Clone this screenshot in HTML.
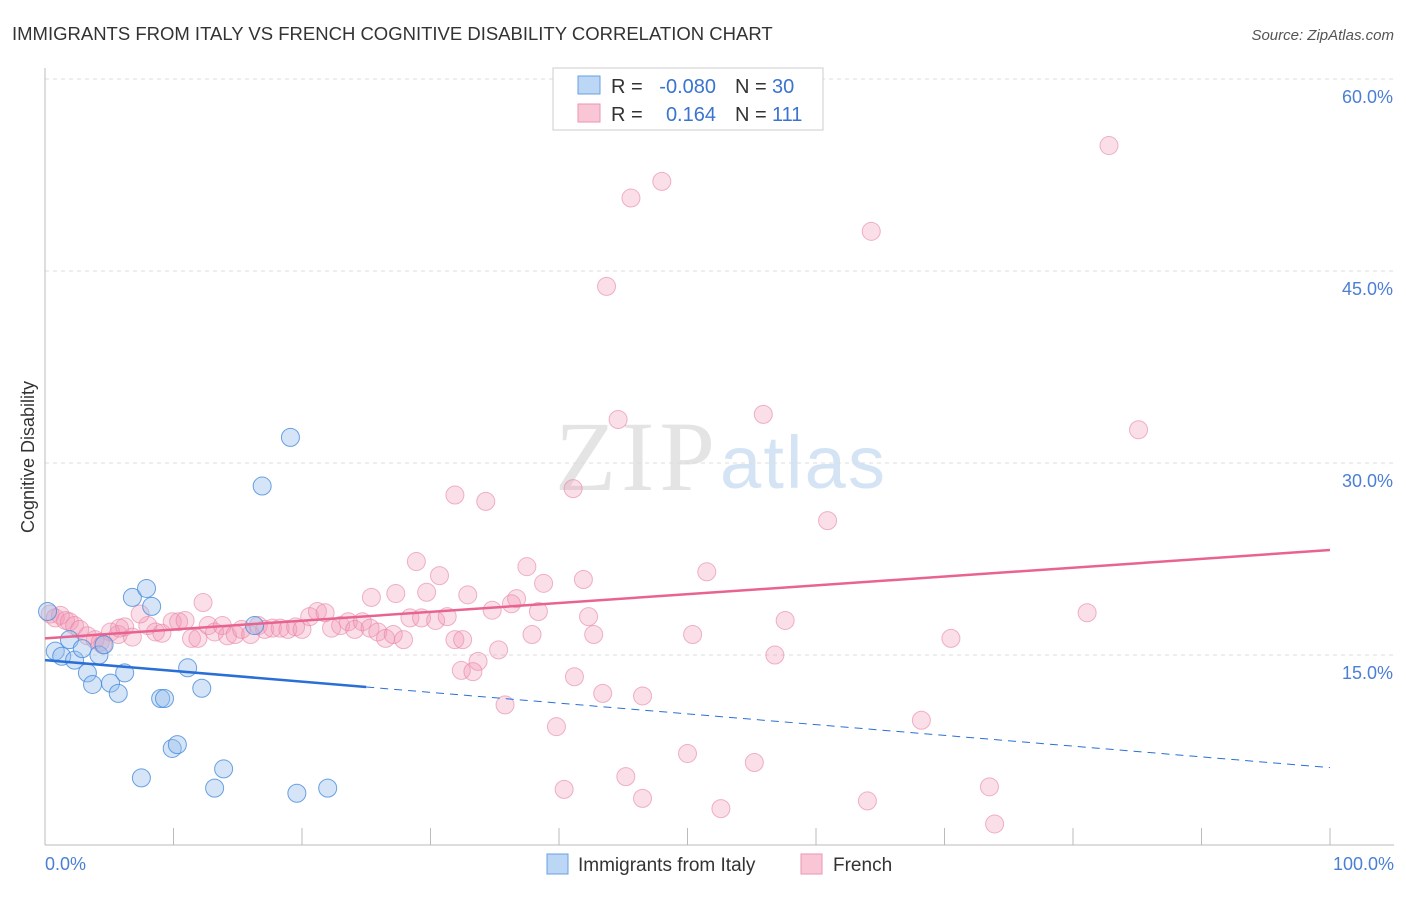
<!DOCTYPE html>
<html><head><meta charset="utf-8"><style>
body{margin:0;background:#fff;font-family:"Liberation Sans",sans-serif;}
svg text{font-family:"Liberation Sans",sans-serif;}
</style></head><body>
<svg width="1406" height="892">
<text x="12" y="40" font-size="18.5" fill="#333">IMMIGRANTS FROM ITALY VS FRENCH COGNITIVE DISABILITY CORRELATION CHART</text>
<text x="1394" y="40" font-size="15" fill="#555" font-style="italic" text-anchor="end">Source: ZipAtlas.com</text>
<text x="555" y="490" font-size="100" fill="#e4e4e4" style="font-family:'Liberation Serif',serif" textLength="160">ZIP</text>
<text x="720" y="488" font-size="74" fill="#d4e4f4" textLength="165">atlas</text>
<g id="grid"></g>
<line x1="45" y1="68" x2="45" y2="845" stroke="#bbb"/>
<line x1="45" y1="845" x2="1394" y2="845" stroke="#bbb"/>
<text x="34" y="457" font-size="18" fill="#333" text-anchor="middle" transform="rotate(-90 34 457)">Cognitive Disability</text>
<text x="45" y="870" font-size="18" fill="#4a7fd4">0.0%</text>
<text x="1394" y="870" font-size="18" fill="#4a7fd4" text-anchor="end">100.0%</text>
<g id="marks"></g>
<g>
<rect x="553" y="68" width="270" height="62" fill="#fff" stroke="#ccc"/>
<rect x="578" y="76" width="22" height="18" fill="#bcd6f5" stroke="#6aa0e0"/>
<rect x="578" y="104" width="22" height="18" fill="#f9c6d6" stroke="#ea96b2"/>
<text x="611" y="93" font-size="20" fill="#333">R =</text>
<text x="716" y="93" font-size="20" fill="#3a74d0" text-anchor="end">-0.080</text>
<text x="735" y="93" font-size="20" fill="#333">N =</text>
<text x="772" y="93" font-size="20" fill="#3a74d0">30</text>
<text x="611" y="121" font-size="20" fill="#333">R =</text>
<text x="716" y="121" font-size="20" fill="#3a74d0" text-anchor="end">0.164</text>
<text x="735" y="121" font-size="20" fill="#333">N =</text>
<text x="772" y="121" font-size="20" fill="#3a74d0">111</text>
</g>
<g>
<rect x="547" y="854" width="21" height="20" fill="#bcd6f5" stroke="#6aa0e0"/>
<text x="578" y="871" font-size="19" fill="#333">Immigrants from Italy</text>
<rect x="801" y="854" width="21" height="20" fill="#f9c6d6" stroke="#ea96b2"/>
<text x="833" y="871" font-size="19" fill="#333">French</text>
</g>
</svg>
<script>
const yTicks=[15,30,45,60];
const yTickLabels=["15.0%","30.0%","45.0%","60.0%"];
const blueX=[0.2,0.8,1.3,1.9,2.3,2.9,3.3,3.7,4.2,4.6,5.1,5.7,6.2,6.8,7.9,8.3,9.0,9.3,9.9,10.3,11.1,12.2,13.2,13.9,7.5,16.9,19.1,19.6,22.0,16.3];
const blueY=[18.4,15.3,14.9,16.2,14.6,15.5,13.6,12.7,15.0,15.8,12.8,12.0,13.6,19.5,20.2,18.8,11.6,11.6,7.7,8.0,14.0,12.4,4.6,6.1,5.4,28.2,32.0,4.2,4.6,17.3];
const pinkX=[82.8,48.0,45.6,64.3,43.7,55.9,44.6,85.1,41.1,31.9,34.3,60.9,28.9,37.5,30.7,51.5,41.9,38.8,32.9,27.3,29.7,25.4,36.7,36.3,34.8,38.4,42.3,81.1,57.6,12.3,37.9,42.7,50.4,70.5,56.8,35.3,33.7,32.4,33.3,41.2,43.4,46.5,35.8,39.8,68.2,50.0,55.2,45.2,73.5,40.4,46.5,64.0,52.6,73.9,
0.4,0.8,1.2,1.6,1.9,2.3,2.7,3.3,3.9,4.5,5.1,5.7,6.2,6.8,8.0,8.6,9.1,9.9,10.4,10.9,11.4,11.9,12.7,13.2,13.8,14.2,14.8,15.3,16.0,16.6,17.1,17.7,18.3,18.9,19.5,20.0,20.6,21.2,21.8,22.3,23.0,23.6,24.1,24.7,25.3,25.9,26.5,27.1,27.9,28.4,29.3,30.4,31.3,31.9,32.5,7.4,4.3,5.8];
const pinkY=[54.8,52.0,50.7,48.1,43.8,33.8,33.4,32.6,28.0,27.5,27.0,25.5,22.3,21.9,21.2,21.5,20.9,20.6,19.7,19.8,19.9,19.5,19.4,19.0,18.5,18.4,18.0,18.3,17.7,19.1,16.6,16.6,16.6,16.3,15.0,15.4,14.5,13.8,13.7,13.3,12.0,11.8,11.1,9.4,9.9,7.3,6.6,5.5,4.7,4.5,3.8,3.6,3.0,1.8,
18.2,17.9,18.1,17.7,17.6,17.3,17.0,16.5,16.2,15.8,16.8,16.6,17.2,16.4,17.3,16.8,16.7,17.6,17.6,17.7,16.3,16.3,17.3,16.8,17.3,16.5,16.6,17.0,16.6,17.3,17.0,17.1,17.1,17.0,17.2,17.0,18.0,18.4,18.3,17.1,17.3,17.6,17.0,17.6,17.1,16.8,16.3,16.6,16.2,17.9,17.9,17.7,18.0,16.2,16.2,18.2,16.0,17.1];
const pinkTrend=[16.3,23.2];
const blueTrend=[14.6,6.2];
const blueSolidEnd=25;
const NS="http://www.w3.org/2000/svg";
const sx=v=>45+v*12.85, sy=v=>847-v*12.8;
const grid=document.getElementById('grid'), marks=document.getElementById('marks');
function mk(tag,attrs,parent){const e=document.createElementNS(NS,tag);for(const k in attrs)e.setAttribute(k,attrs[k]);parent.appendChild(e);return e;}
yTicks.forEach((t,i)=>{
 const l=mk('line',{x1:45,x2:1394,y1:sy(t),y2:sy(t),stroke:'#ddd','stroke-dasharray':'4,4'},grid);
 
 
 const tx=mk('text',{x:1393,y:sy(t)+24,'font-size':18,fill:'#4a7fd4','text-anchor':'end'},grid);
 tx.textContent=yTickLabels[i];
 
 
});
for(let i=0;i<=10;i++){
 const l=mk('line',{x1:sx(i*10),x2:sx(i*10),y1:828,y2:845,stroke:'#bbb'},grid);
 
 
}
pinkX.forEach((x,i)=>{
 const c=mk('circle',{cx:sx(x),cy:sy(pinkY[i]),r:9,fill:'rgba(242,150,180,0.3)',stroke:'rgba(230,130,165,0.6)'},marks);
 
 
});
blueX.forEach((x,i)=>{
 const c=mk('circle',{cx:sx(x),cy:sy(blueY[i]),r:9,fill:'rgba(150,190,235,0.4)',stroke:'rgba(70,140,220,0.8)'},marks);
 
 
});
const by=x=>blueTrend[0]+(blueTrend[1]-blueTrend[0])*x/100;
let l=mk('line',{x1:sx(0),y1:sy(by(0)),x2:sx(blueSolidEnd),y2:sy(by(blueSolidEnd)),stroke:'#2a6fd6','stroke-width':2.5},marks);


l=mk('line',{x1:sx(blueSolidEnd),y1:sy(by(blueSolidEnd)),x2:sx(100),y2:sy(by(100)),stroke:'#2a6fd6','stroke-width':1,'stroke-dasharray':'8,6'},marks);


l=mk('line',{x1:sx(0),y1:sy(pinkTrend[0]),x2:sx(100),y2:sy(pinkTrend[1]),stroke:'#e8648f','stroke-width':2.5},marks);


</script>
</body></html>
